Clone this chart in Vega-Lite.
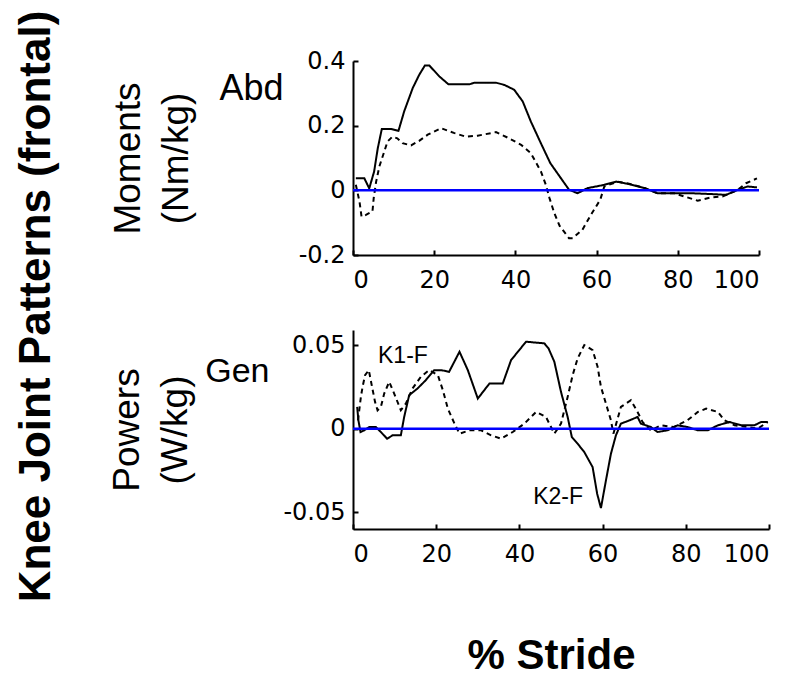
{
  "$schema": "https://vega.github.io/schema/vega-lite/v6.json",
  "background": "white",
  "padding": {"left": 14, "top": 10, "right": 5, "bottom": 0},
  "config": {
    "view": {"stroke": null},
    "axis": {"domainColor": "black", "domainWidth": 2, "tickColor": "black", "tickWidth": 2, "tickSize": -5, "grid": false, "labelFont": "DejaVu Sans", "labelFontSize": 24, "labelColor": "black", "titleFont": "Liberation Sans", "titleFontWeight": "normal", "titleColor": "black"},
    "text": {"font": "Liberation Sans", "color": "black"}
  },
  "title": {"text": "Knee Joint Patterns (frontal)", "orient": "left", "anchor": "middle", "fontSize": 44, "fontWeight": "bold", "font": "Liberation Sans", "color": "black", "offset": 50, "dx": 56},
  "datasets": {
    "moments": [
      {"type": "solid", "x": 0.7, "y": 0.037}, {"type": "solid", "x": 2.8, "y": 0.037}, {"type": "solid", "x": 4.0, "y": 0.006}, {"type": "solid", "x": 5.2, "y": 0.058}, {"type": "solid", "x": 6.1, "y": 0.13}, {"type": "solid", "x": 7.1, "y": 0.19}, {"type": "solid", "x": 9.4, "y": 0.19}, {"type": "solid", "x": 11.2, "y": 0.184}, {"type": "solid", "x": 12.6, "y": 0.244}, {"type": "solid", "x": 14.7, "y": 0.316}, {"type": "solid", "x": 16.3, "y": 0.357}, {"type": "solid", "x": 17.7, "y": 0.386}, {"type": "solid", "x": 18.8, "y": 0.386}, {"type": "solid", "x": 21.3, "y": 0.352}, {"type": "solid", "x": 23.5, "y": 0.328}, {"type": "solid", "x": 28.7, "y": 0.328}, {"type": "solid", "x": 29.9, "y": 0.333}, {"type": "solid", "x": 35.2, "y": 0.333}, {"type": "solid", "x": 37.3, "y": 0.326}, {"type": "solid", "x": 39.7, "y": 0.311}, {"type": "solid", "x": 41.8, "y": 0.275}, {"type": "solid", "x": 43.8, "y": 0.213}, {"type": "solid", "x": 46.3, "y": 0.145}, {"type": "solid", "x": 48.6, "y": 0.084}, {"type": "solid", "x": 50.9, "y": 0.043}, {"type": "solid", "x": 53.2, "y": 0.002}, {"type": "solid", "x": 55.3, "y": -0.009}, {"type": "solid", "x": 57.8, "y": 0.007}, {"type": "solid", "x": 59.9, "y": 0.012}, {"type": "solid", "x": 61.9, "y": 0.017}, {"type": "solid", "x": 64.8, "y": 0.027}, {"type": "solid", "x": 68.1, "y": 0.019}, {"type": "solid", "x": 71.8, "y": 0.007}, {"type": "solid", "x": 75.0, "y": -0.009}, {"type": "solid", "x": 79.1, "y": -0.009}, {"type": "solid", "x": 83.3, "y": -0.009}, {"type": "solid", "x": 89.0, "y": -0.012}, {"type": "solid", "x": 91.9, "y": -0.014}, {"type": "solid", "x": 94.7, "y": 0.001}, {"type": "solid", "x": 97.2, "y": 0.012}, {"type": "solid", "x": 99.5, "y": 0.009},
      {"type": "dashed", "x": 0.7, "y": 0.017}, {"type": "dashed", "x": 1.6, "y": -0.035}, {"type": "dashed", "x": 2.1, "y": -0.081}, {"type": "dashed", "x": 3.2, "y": -0.076}, {"type": "dashed", "x": 4.8, "y": -0.065}, {"type": "dashed", "x": 5.1, "y": -0.024}, {"type": "dashed", "x": 5.7, "y": 0.027}, {"type": "dashed", "x": 6.5, "y": 0.074}, {"type": "dashed", "x": 7.7, "y": 0.12}, {"type": "dashed", "x": 8.5, "y": 0.151}, {"type": "dashed", "x": 9.7, "y": 0.166}, {"type": "dashed", "x": 10.9, "y": 0.161}, {"type": "dashed", "x": 12.2, "y": 0.146}, {"type": "dashed", "x": 14.3, "y": 0.139}, {"type": "dashed", "x": 16.3, "y": 0.153}, {"type": "dashed", "x": 18.4, "y": 0.172}, {"type": "dashed", "x": 21.7, "y": 0.192}, {"type": "dashed", "x": 25.0, "y": 0.177}, {"type": "dashed", "x": 27.8, "y": 0.166}, {"type": "dashed", "x": 30.7, "y": 0.169}, {"type": "dashed", "x": 35.2, "y": 0.18}, {"type": "dashed", "x": 38.1, "y": 0.163}, {"type": "dashed", "x": 41.4, "y": 0.141}, {"type": "dashed", "x": 43.8, "y": 0.115}, {"type": "dashed", "x": 46.3, "y": 0.058}, {"type": "dashed", "x": 47.5, "y": 0.017}, {"type": "dashed", "x": 48.4, "y": -0.024}, {"type": "dashed", "x": 49.6, "y": -0.071}, {"type": "dashed", "x": 50.9, "y": -0.11}, {"type": "dashed", "x": 53.2, "y": -0.148}, {"type": "dashed", "x": 54.1, "y": -0.148}, {"type": "dashed", "x": 56.5, "y": -0.122}, {"type": "dashed", "x": 58.6, "y": -0.076}, {"type": "dashed", "x": 60.9, "y": -0.029}, {"type": "dashed", "x": 61.9, "y": 0.012}, {"type": "dashed", "x": 65.2, "y": 0.027}, {"type": "dashed", "x": 68.5, "y": 0.019}, {"type": "dashed", "x": 71.8, "y": 0.007}, {"type": "dashed", "x": 75.0, "y": -0.009}, {"type": "dashed", "x": 79.1, "y": -0.009}, {"type": "dashed", "x": 81.6, "y": -0.019}, {"type": "dashed", "x": 84.9, "y": -0.032}, {"type": "dashed", "x": 88.2, "y": -0.022}, {"type": "dashed", "x": 91.0, "y": -0.019}, {"type": "dashed", "x": 94.7, "y": 0.001}, {"type": "dashed", "x": 96.8, "y": 0.022}, {"type": "dashed", "x": 99.5, "y": 0.037}
    ],
    "powers": [
      {"type": "solid", "x": 1.0, "y": 0.013}, {"type": "solid", "x": 1.3, "y": 0.005}, {"type": "solid", "x": 1.8, "y": -0.002}, {"type": "solid", "x": 2.7, "y": -0.001}, {"type": "solid", "x": 3.9, "y": 0.001}, {"type": "solid", "x": 5.5, "y": 0.001}, {"type": "solid", "x": 6.7, "y": -0.002}, {"type": "solid", "x": 8.2, "y": -0.006}, {"type": "solid", "x": 9.5, "y": -0.004}, {"type": "solid", "x": 11.5, "y": -0.004}, {"type": "solid", "x": 12.3, "y": 0.007}, {"type": "solid", "x": 13.5, "y": 0.02}, {"type": "solid", "x": 15.5, "y": 0.024}, {"type": "solid", "x": 17.5, "y": 0.029}, {"type": "solid", "x": 19.5, "y": 0.035}, {"type": "solid", "x": 21.2, "y": 0.035}, {"type": "solid", "x": 23.1, "y": 0.034}, {"type": "solid", "x": 25.6, "y": 0.046}, {"type": "solid", "x": 27.6, "y": 0.035}, {"type": "solid", "x": 30.0, "y": 0.018}, {"type": "solid", "x": 32.8, "y": 0.027}, {"type": "solid", "x": 36.0, "y": 0.027}, {"type": "solid", "x": 38.0, "y": 0.041}, {"type": "solid", "x": 41.6, "y": 0.052}, {"type": "solid", "x": 46.0, "y": 0.051}, {"type": "solid", "x": 47.0, "y": 0.048}, {"type": "solid", "x": 48.4, "y": 0.04}, {"type": "solid", "x": 50.0, "y": 0.022}, {"type": "solid", "x": 51.6, "y": 0.007}, {"type": "solid", "x": 52.6, "y": -0.005}, {"type": "solid", "x": 54.0, "y": -0.009}, {"type": "solid", "x": 55.6, "y": -0.014}, {"type": "solid", "x": 57.6, "y": -0.023}, {"type": "solid", "x": 58.7, "y": -0.039}, {"type": "solid", "x": 59.6, "y": -0.0475}, {"type": "solid", "x": 60.8, "y": -0.031}, {"type": "solid", "x": 62.0, "y": -0.015}, {"type": "solid", "x": 63.2, "y": -0.004}, {"type": "solid", "x": 64.4, "y": 0.003}, {"type": "solid", "x": 66.5, "y": 0.005}, {"type": "solid", "x": 68.4, "y": 0.007}, {"type": "solid", "x": 69.2, "y": 0.003}, {"type": "solid", "x": 71.6, "y": 0.001}, {"type": "solid", "x": 73.2, "y": -0.002}, {"type": "solid", "x": 75.6, "y": -0.001}, {"type": "solid", "x": 78.0, "y": 0.002}, {"type": "solid", "x": 80.4, "y": 0.001}, {"type": "solid", "x": 82.9, "y": -0.001}, {"type": "solid", "x": 85.3, "y": -0.001}, {"type": "solid", "x": 87.7, "y": 0.002}, {"type": "solid", "x": 90.5, "y": 0.004}, {"type": "solid", "x": 93.3, "y": 0.002}, {"type": "solid", "x": 96.5, "y": 0.002}, {"type": "solid", "x": 98.1, "y": 0.004}, {"type": "solid", "x": 99.7, "y": 0.004},
      {"type": "dashed", "x": 1.2, "y": 0.005}, {"type": "dashed", "x": 1.9, "y": 0.019}, {"type": "dashed", "x": 2.3, "y": 0.025}, {"type": "dashed", "x": 2.9, "y": 0.032}, {"type": "dashed", "x": 3.8, "y": 0.035}, {"type": "dashed", "x": 4.5, "y": 0.026}, {"type": "dashed", "x": 5.3, "y": 0.016}, {"type": "dashed", "x": 5.9, "y": 0.011}, {"type": "dashed", "x": 6.7, "y": 0.013}, {"type": "dashed", "x": 7.5, "y": 0.021}, {"type": "dashed", "x": 8.7, "y": 0.028}, {"type": "dashed", "x": 9.9, "y": 0.021}, {"type": "dashed", "x": 11.5, "y": 0.011}, {"type": "dashed", "x": 12.7, "y": 0.015}, {"type": "dashed", "x": 14.3, "y": 0.024}, {"type": "dashed", "x": 16.3, "y": 0.031}, {"type": "dashed", "x": 18.3, "y": 0.035}, {"type": "dashed", "x": 20.4, "y": 0.032}, {"type": "dashed", "x": 21.6, "y": 0.023}, {"type": "dashed", "x": 22.8, "y": 0.012}, {"type": "dashed", "x": 24.4, "y": 0.003}, {"type": "dashed", "x": 25.6, "y": -0.003}, {"type": "dashed", "x": 28.0, "y": -0.001}, {"type": "dashed", "x": 30.8, "y": -0.001}, {"type": "dashed", "x": 33.2, "y": -0.004}, {"type": "dashed", "x": 35.6, "y": -0.006}, {"type": "dashed", "x": 38.4, "y": -0.002}, {"type": "dashed", "x": 41.2, "y": 0.003}, {"type": "dashed", "x": 44.0, "y": 0.01}, {"type": "dashed", "x": 46.4, "y": 0.007}, {"type": "dashed", "x": 48.4, "y": -0.003}, {"type": "dashed", "x": 50.0, "y": 0.003}, {"type": "dashed", "x": 51.6, "y": 0.019}, {"type": "dashed", "x": 52.8, "y": 0.032}, {"type": "dashed", "x": 54.0, "y": 0.042}, {"type": "dashed", "x": 55.6, "y": 0.05}, {"type": "dashed", "x": 57.6, "y": 0.047}, {"type": "dashed", "x": 58.8, "y": 0.037}, {"type": "dashed", "x": 59.6, "y": 0.025}, {"type": "dashed", "x": 60.8, "y": 0.015}, {"type": "dashed", "x": 62.0, "y": 0.005}, {"type": "dashed", "x": 62.6, "y": -0.003}, {"type": "dashed", "x": 64.4, "y": 0.013}, {"type": "dashed", "x": 66.8, "y": 0.017}, {"type": "dashed", "x": 68.4, "y": 0.01}, {"type": "dashed", "x": 69.6, "y": 0.004}, {"type": "dashed", "x": 71.6, "y": -0.001}, {"type": "dashed", "x": 74.0, "y": 0.002}, {"type": "dashed", "x": 77.2, "y": 0.001}, {"type": "dashed", "x": 80.4, "y": 0.005}, {"type": "dashed", "x": 82.9, "y": 0.01}, {"type": "dashed", "x": 84.9, "y": 0.012}, {"type": "dashed", "x": 87.7, "y": 0.01}, {"type": "dashed", "x": 89.3, "y": 0.005}, {"type": "dashed", "x": 91.7, "y": 0.002}, {"type": "dashed", "x": 94.9, "y": 0.001}, {"type": "dashed", "x": 97.3, "y": 0.0}, {"type": "dashed", "x": 99.7, "y": 0.004}
    ]
  },
  "vconcat": [
    {
      "width": 406,
      "height": 194,
      "layer": [
        {
          "data": {"name": "moments"},
          "mark": {"type": "line", "color": "black", "strokeWidth": 2},
          "encoding": {
            "x": {"field": "x", "type": "quantitative", "scale": {"domain": [0, 100], "nice": false}, "axis": {"values": [0, 20, 40, 60, 80, 100], "title": null, "labelPadding": 18}},
            "y": {"field": "y", "type": "quantitative", "scale": {"domain": [-0.2, 0.4], "nice": false, "zero": false}, "axis": {"values": [-0.2, 0, 0.2, 0.4], "labelExpr": "replace(format(datum.value, '~g'), '−', '-')", "labelPadding": 13, "title": ["Moments", "(Nm/kg)"], "titleFontSize": 37, "titleLineHeight": 48, "titlePadding": 103}},
            "strokeDash": {"field": "type", "type": "nominal", "scale": {"domain": ["solid", "dashed"], "range": [[1, 0], [5, 4]]}, "legend": null}
          }
        },
        {
          "data": {"values": [{"x0": 0, "x1": 100, "y": 0}]},
          "mark": {"type": "rule", "color": "#0000ff", "strokeWidth": 2.5},
          "encoding": {
            "x": {"field": "x0", "type": "quantitative", "scale": {"domain": [0, 100], "nice": false}},
            "x2": {"field": "x1"},
            "y": {"field": "y", "type": "quantitative"}
          }
        },
        {
          "data": {"values": [{"label": "Abd", "x": -25, "y": 0.278}]},
          "mark": {"type": "text", "fontSize": 36, "align": "center", "baseline": "alphabetic"},
          "encoding": {
            "x": {"field": "x", "type": "quantitative", "scale": {"domain": [0, 100], "nice": false}},
            "y": {"field": "y", "type": "quantitative"},
            "text": {"field": "label"}
          }
        }
      ]
    },
    {
      "width": 416,
      "height": 199,
      "layer": [
        {
          "data": {"name": "powers"},
          "mark": {"type": "line", "color": "black", "strokeWidth": 2},
          "encoding": {
            "x": {"field": "x", "type": "quantitative", "scale": {"domain": [0, 100], "nice": false}, "axis": {"values": [0, 20, 40, 60, 80, 100], "title": "% Stride", "titleFontSize": 42, "titleFontWeight": "bold", "titlePadding": 69, "titleX": 198, "labelPadding": 18}},
            "y": {"field": "y", "type": "quantitative", "scale": {"domain": [-0.06, 0.059], "nice": false, "zero": false}, "axis": {"values": [-0.05, 0, 0.05], "labelExpr": "replace(format(datum.value, '~g'), '−', '-')", "labelPadding": 13, "title": ["Powers", "(W/kg)"], "titleFontSize": 37, "titleLineHeight": 48, "titlePadding": 88}},
            "strokeDash": {"field": "type", "type": "nominal", "scale": {"domain": ["solid", "dashed"], "range": [[1, 0], [5, 4]]}, "legend": null}
          }
        },
        {
          "data": {"values": [{"x0": 0, "x1": 100, "y": 0}]},
          "mark": {"type": "rule", "color": "#0000ff", "strokeWidth": 2.5},
          "encoding": {
            "x": {"field": "x0", "type": "quantitative", "scale": {"domain": [0, 100], "nice": false}},
            "x2": {"field": "x1"},
            "y": {"field": "y", "type": "quantitative"}
          }
        },
        {
          "data": {"values": [{"label": "Gen", "x": -27.8, "y": 0.028}]},
          "mark": {"type": "text", "fontSize": 34, "align": "center", "baseline": "alphabetic"},
          "encoding": {
            "x": {"field": "x", "type": "quantitative", "scale": {"domain": [0, 100], "nice": false}},
            "y": {"field": "y", "type": "quantitative"},
            "text": {"field": "label"}
          }
        },
        {
          "data": {"values": [{"label": "K1-F", "x": 12.0, "y": 0.039}, {"label": "K2-F", "x": 49.3, "y": -0.045}]},
          "mark": {"type": "text", "fontSize": 23, "align": "center", "baseline": "alphabetic"},
          "encoding": {
            "x": {"field": "x", "type": "quantitative", "scale": {"domain": [0, 100], "nice": false}},
            "y": {"field": "y", "type": "quantitative"},
            "text": {"field": "label"}
          }
        }
      ]
    }
  ],
  "spacing": 75,
  "bounds": "flush"
}
